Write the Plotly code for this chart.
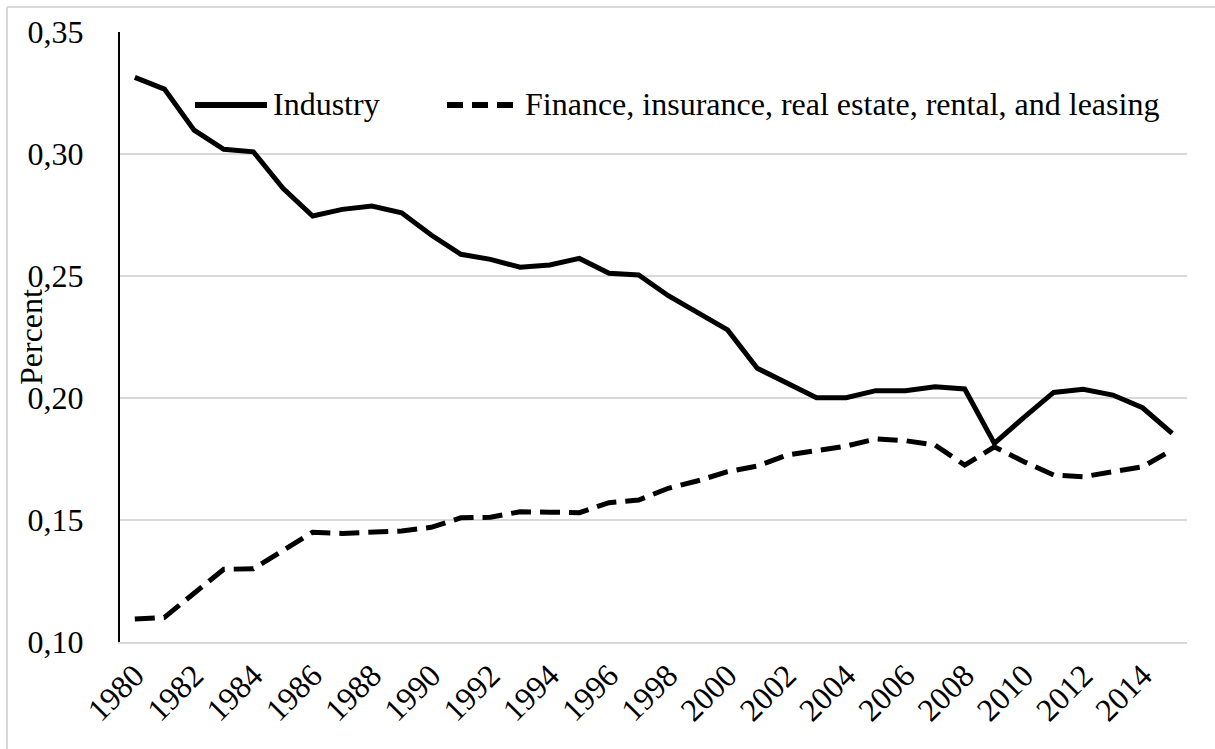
import plotly.graph_objects as go

years = list(range(1980, 2016))

industry = [
    0.3314, 0.3266, 0.3098, 0.3019, 0.3009, 0.2859, 0.2746, 0.2773, 0.2787, 0.2759,
    0.2668, 0.2589, 0.2568, 0.2536, 0.2545, 0.2572, 0.2511, 0.2504, 0.2419, 0.2347,
    0.2279, 0.2122, 0.2060, 0.2001, 0.2001, 0.2030, 0.2030, 0.2046, 0.2037, 0.1814,
    0.1921, 0.2023, 0.2036, 0.2012, 0.1960, 0.1855,
]

finance = [
    0.1094, 0.1101, 0.1200, 0.1298, 0.1300, 0.1377, 0.1450, 0.1445, 0.1450, 0.1455,
    0.1470, 0.1509, 0.1511, 0.1534, 0.1532, 0.1530, 0.1571, 0.1582, 0.1630, 0.1661,
    0.1698, 0.1721, 0.1766, 0.1787, 0.1803, 0.1832, 0.1825, 0.1807, 0.1725, 0.1800,
    0.1739, 0.1684, 0.1677, 0.1698, 0.1718, 0.1787,
]

series_names = ["Industry", "Finance, insurance, real estate, rental, and leasing"]
y_ticks = [0.10, 0.15, 0.20, 0.25, 0.30, 0.35]
x_ticks = list(range(1980, 2016, 2))

FONT = "Liberation Serif, Times New Roman, serif"
FS = 32
W, H = 1215, 749
ML, MR, MT, MB = 120, 28, 32, 107
PW, PH = W - ML - MR, H - MT - MB


def px(x):
    return (x - ML) / PW


def py(y):
    return (H - MB - y) / PH


DASH = "20px,9px"

fig = go.Figure()
fig.add_trace(go.Scatter(x=years, y=industry, mode="lines", name=series_names[0],
                         line=dict(color="black", width=5), showlegend=False))
fig.add_trace(go.Scatter(x=years, y=finance, mode="lines", name=series_names[1],
                         line=dict(color="black", width=5, dash=DASH), showlegend=False))

shapes = [
    # legend keys
    dict(type="line", xref="paper", yref="paper", x0=px(195), x1=px(267), y0=py(105), y1=py(105),
         line=dict(color="black", width=6)),
    dict(type="line", xref="paper", yref="paper", x0=px(447), x1=px(518), y0=py(105), y1=py(105),
         line=dict(color="black", width=6, dash="16px,9px")),
    # frame edges
    dict(type="line", xref="paper", yref="paper", x0=px(7), x1=px(W), y0=py(7), y1=py(7),
         line=dict(color="#d9d9d9", width=2)),
    dict(type="line", xref="paper", yref="paper", x0=px(7), x1=px(7), y0=py(7), y1=py(H),
         line=dict(color="#d9d9d9", width=2)),
]

annotations = [
    dict(text=series_names[0], xref="paper", yref="paper", x=px(271), y=py(104),
         xanchor="left", yanchor="middle", showarrow=False,
         font=dict(family=FONT, size=FS, color="black")),
    dict(text=series_names[1], xref="paper", yref="paper", x=px(523), y=py(104),
         xanchor="left", yanchor="middle", showarrow=False,
         font=dict(family=FONT, size=FS, color="black")),
    dict(text="Percent", xref="paper", yref="paper", x=px(31), y=0.5, textangle=-90,
         xanchor="center", yanchor="middle", showarrow=False,
         font=dict(family=FONT, size=FS, color="black")),
]

fig.update_layout(
    width=W, height=H,
    margin=dict(l=ML, r=MR, t=MT, b=MB, autoexpand=False),
    paper_bgcolor="white", plot_bgcolor="white",
    separators=",.",
    font=dict(family=FONT, size=FS, color="black"),
    shapes=shapes, annotations=annotations,
    showlegend=False,
)
fig.update_xaxes(range=[1979.5, 2015.5], tickmode="array", tickvals=x_ticks,
                 ticktext=[str(t) for t in x_ticks], tickangle=-45,
                 showgrid=False, zeroline=False, showline=True,
                 linecolor="#d9d9d9", linewidth=2, ticks="",
                 tickfont=dict(family=FONT, size=FS, color="black"))
fig.update_yaxes(range=[0.10, 0.35], tickmode="array", tickvals=y_ticks,
                 tickformat=".2f", showgrid=True, gridcolor="#d9d9d9", gridwidth=2,
                 zeroline=False, showline=True, linecolor="black", linewidth=2,
                 ticks="", ticklabelstandoff=28,
                 tickfont=dict(family=FONT, size=FS, color="black"))

fig.write_html("out.html")
